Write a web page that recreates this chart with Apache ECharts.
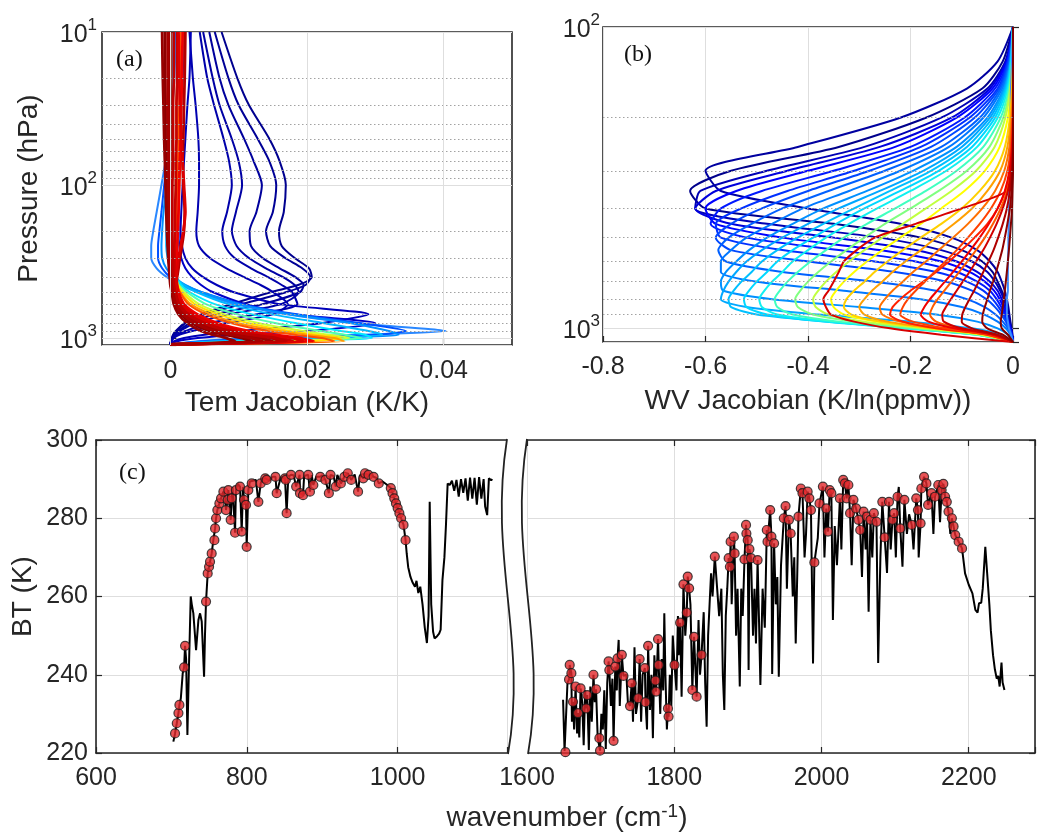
<!DOCTYPE html>
<html><head><meta charset="utf-8">
<script src="https://cdn.jsdelivr.net/npm/echarts@6/dist/echarts.min.js"></script>
<style>html,body{margin:0;padding:0;background:#fff}#c{width:1038px;height:836px}</style>
</head><body><div id="c"></div><script>
// ---------- Panel (a): temperature Jacobians (K/K) ----------
const presA = [10,20,30,50,70,100,150,200,250,300,350,400,450,500,600,700,800,900,950,1000,1050,1100];
const a_D1 = [0.0075,0.0098,0.0115,0.0145,0.0160,0.0169,0.0166,0.0159,0.0163,0.0182,0.0203,0.0207,0.0187,0.0148,0.0090,0.0045,0.0020,0.0008,0.0004,0.0002,0.0001,0];
const a_D2 = [0.0065,0.0085,0.0100,0.0128,0.0145,0.0155,0.0150,0.0140,0.0146,0.0168,0.0193,0.0205,0.0198,0.0170,0.0105,0.0050,0.0022,0.0010,0.0005,0.0003,0.0001,0];
const a_D3 = [0.0057,0.0072,0.0085,0.0108,0.0122,0.0134,0.0126,0.0116,0.0118,0.0135,0.0160,0.0183,0.0195,0.0190,0.0135,0.0065,0.0028,0.0012,0.0006,0.0003,0.0001,0];
const a_D4 = [0.0048,0.0062,0.0072,0.0090,0.0100,0.0105,0.0096,0.0090,0.0097,0.0115,0.0140,0.0165,0.0182,0.0188,0.0162,0.0085,0.0035,0.0014,0.0007,0.0003,0.0001,0];
const a_D5 = [0.0043,0.0054,0.0064,0.0078,0.0086,0.0090,0.0083,0.0076,0.0080,0.0094,0.0118,0.0143,0.0163,0.0178,0.0186,0.0125,0.0055,0.0022,0.0010,0.0004,0.0001,0];
const a_D6 = [0.0028,0.0033,0.0037,0.0041,0.0042,0.0042,0.0040,0.0038,0.0042,0.0058,0.0082,0.0108,0.0132,0.0150,0.0172,0.0150,0.0080,0.0032,0.0014,0.0005,0.0002,0];
const a_D7 = [0.0030,0.0028,0.0025,0.0022,0.0020,0.0018,0.0016,0.0015,0.0017,0.0022,0.0032,0.0048,0.0068,0.0092,0.0160,0.0290,0.0220,0.0100,0.0050,0.0020,0.0005,0];
const a_D8 = [0.0020,0.0018,0.0016,0.0014,0.0013,0.0012,0.0012,0.0012,0.0013,0.0016,0.0022,0.0032,0.0045,0.0062,0.0110,0.0180,0.0300,0.0200,0.0100,0.0040,0.0010,0];
const a_L1 = [0.0008,0.0006,0.0003,-0.0002,-0.0007,-0.0013,-0.0020,-0.0025,-0.0028,-0.0028,-0.0020,-0.0005,0.0015,0.0040,0.0095,0.0170,0.0270,0.0403,0.0280,0.0120,0.0040,0];
const a_L2 = [0.0006,0.0004,0.0002,-0.0002,-0.0005,-0.0009,-0.0013,-0.0016,-0.0018,-0.0018,-0.0012,0.0000,0.0020,0.0045,0.0105,0.0185,0.0280,0.0345,0.0300,0.0150,0.0050,0];
const a_L3 = [0.0005,0.0004,0.0002,0.0000,-0.0003,-0.0006,-0.0010,-0.0012,-0.0013,-0.0012,-0.0006,0.0005,0.0022,0.0045,0.0100,0.0175,0.0265,0.0320,0.0334,0.0200,0.0060,0];
const a_L4 = [0.0005,0.0004,0.0003,0.0001,-0.0001,-0.0003,-0.0005,-0.0006,-0.0006,-0.0004,0.0000,0.0008,0.0020,0.0038,0.0085,0.0150,0.0225,0.0290,0.0310,0.0220,0.0070,0];
const a_C5 = [0.0010,0.0010,0.0009,0.0009,0.0008,0.0008,0.0007,0.0007,0.0006,0.0006,0.0006,0.0008,0.0016,0.0028,0.0065,0.0120,0.0185,0.0250,0.0285,0.0295,0.0100,0];
const a_G6 = [0.0000,0.0000,0.0000,0.0000,0.0000,0.0000,0.0001,0.0001,0.0001,0.0001,0.0002,0.0004,0.0012,0.0024,0.0052,0.0098,0.0155,0.0220,0.0255,0.0280,0.0120,0];
const a_Y7 = [0.0018,0.0017,0.0016,0.0015,0.0014,0.0013,0.0012,0.0011,0.0010,0.0009,0.0009,0.0009,0.0012,0.0020,0.0042,0.0080,0.0130,0.0195,0.0232,0.0262,0.0160,0];
const a_Y8 = [0.0010,0.0010,0.0009,0.0009,0.0008,0.0008,0.0007,0.0007,0.0006,0.0006,0.0006,0.0006,0.0010,0.0017,0.0036,0.0070,0.0115,0.0175,0.0215,0.0250,0.0200,0];
const a_O9 = [0.0000,0.0000,0.0000,0.0000,0.0000,0.0000,0.0001,0.0001,0.0001,0.0001,0.0002,0.0003,0.0007,0.0014,0.0030,0.0060,0.0100,0.0160,0.0200,0.0240,0.0255,0];
const a_O10 = [0.0015,0.0014,0.0013,0.0012,0.0011,0.0010,0.0009,0.0008,0.0007,0.0007,0.0007,0.0008,0.0010,0.0014,0.0026,0.0052,0.0090,0.0142,0.0182,0.0222,0.0240,0];
const a_R11 = [0.0018,0.0017,0.0016,0.0015,0.0014,0.0013,0.0012,0.0011,0.0010,0.0009,0.0009,0.0009,0.0010,0.0012,0.0020,0.0040,0.0070,0.0115,0.0150,0.0190,0.0210,0];
const a_R12 = [0.0010,0.0010,0.0009,0.0009,0.0008,0.0008,0.0007,0.0007,0.0006,0.0006,0.0006,0.0006,0.0007,0.0009,0.0015,0.0030,0.0055,0.0095,0.0128,0.0162,0.0180,0];
const a_R13 = [0.0000,0.0000,0.0000,0.0000,0.0000,0.0000,0.0001,0.0001,0.0001,0.0001,0.0002,0.0002,0.0003,0.0005,0.0010,0.0022,0.0042,0.0075,0.0102,0.0132,0.0150,0];
const a_R14 = [-0.0008,-0.0008,-0.0007,-0.0007,-0.0006,-0.0006,-0.0005,-0.0004,-0.0003,-0.0002,-0.0001,0.0000,0.0001,0.0003,0.0007,0.0016,0.0032,0.0058,0.0080,0.0105,0.0120,0];
const a_R15 = [0.0022,0.0021,0.0020,0.0019,0.0018,0.0019,0.0021,0.0020,0.0017,0.0014,0.0012,0.0010,0.0009,0.0009,0.0012,0.0024,0.0048,0.0085,0.0115,0.0148,0.0165,0];
const a_R16 = [-0.0012,-0.0011,-0.0010,-0.0009,-0.0008,-0.0007,-0.0006,-0.0005,-0.0004,-0.0003,-0.0002,-0.0001,0.0000,0.0002,0.0005,0.0012,0.0025,0.0045,0.0062,0.0082,0.0095,0];
const a_R17 = [0.0012,0.0013,0.0014,0.0016,0.0018,0.0020,0.0022,0.0019,0.0015,0.0012,0.0010,0.0009,0.0009,0.0011,0.0018,0.0034,0.0062,0.0105,0.0140,0.0178,0.0195,0];
const a_R18 = [0.0005,0.0005,0.0004,0.0004,0.0004,0.0003,0.0003,0.0003,0.0003,0.0003,0.0003,0.0004,0.0005,0.0007,0.0012,0.0026,0.0050,0.0088,0.0120,0.0155,0.0170,0];
const a_R19 = [-0.0004,-0.0004,-0.0004,-0.0003,-0.0003,-0.0003,-0.0002,-0.0002,-0.0001,-0.0001,0.0000,0.0001,0.0002,0.0004,0.0008,0.0018,0.0036,0.0065,0.0090,0.0118,0.0135,0];
const aCurves = [a_D1,a_D2,a_D3,a_D4,a_D5,a_D6,a_D7,a_D8,a_L1,a_L2,a_L3,a_L4,a_C5,a_G6,a_Y7,a_Y8,a_O9,a_O10,a_R11,a_R12,a_R13,a_R14,a_R15,a_R16,a_R17,a_R18,a_R19];
const aColors = ['#00008f','#000096','#00009c','#0000a4','#0000aa','#0000b0','#0000b8','#0000c8','#2a88ff','#0050ff','#0090ff','#00b8ff','#00e8ff','#50ffb0','#c8ff38','#ffe000','#ff9a00','#ff5000','#f00000','#c80000','#a00000','#8c0000','#b40000','#960000','#dc0000','#be0000','#a80000'];
const aMinor = [20,30,40,50,60,70,80,90,200,300,400,500,600,700,800,900];
const aXTicks = [0,0.02,0.04];

// ---------- Panel (b): water vapour Jacobians (K/ln(ppmv)) ----------
const presB = [100,130,160,200,250,300,350,400,450,500,550,600,650,700,750,800,850,900,950,1000,1050,1110];
const b_01 = [0,-0.02,-0.06,-0.17,-0.34,-0.55,-0.63,-0.60,-0.35,-0.18,-0.10,-0.06,-0.04,-0.03,-0.022,-0.016,-0.012,-0.009,-0.006,-0.004,-0.002,0];
const b_02 = [0,-0.015,-0.05,-0.14,-0.29,-0.48,-0.61,-0.62,-0.48,-0.26,-0.14,-0.08,-0.05,-0.035,-0.025,-0.018,-0.013,-0.01,-0.007,-0.004,-0.002,0];
const b_03 = [0,-0.03,-0.09,-0.22,-0.42,-0.60,-0.57,-0.40,-0.22,-0.12,-0.07,-0.045,-0.03,-0.022,-0.016,-0.012,-0.009,-0.007,-0.005,-0.003,-0.001,0];
const b_04 = [0,-0.013,-0.045,-0.12,-0.26,-0.44,-0.58,-0.62,-0.55,-0.35,-0.19,-0.11,-0.07,-0.045,-0.03,-0.022,-0.016,-0.012,-0.008,-0.005,-0.002,0];
const b_05 = [0,-0.012,-0.04,-0.11,-0.23,-0.40,-0.54,-0.60,-0.58,-0.45,-0.26,-0.14,-0.085,-0.055,-0.037,-0.026,-0.019,-0.014,-0.009,-0.005,-0.002,0];
const b_06 = [0,-0.01,-0.035,-0.095,-0.20,-0.35,-0.49,-0.57,-0.59,-0.52,-0.34,-0.19,-0.11,-0.07,-0.045,-0.032,-0.023,-0.016,-0.01,-0.006,-0.003,0];
const b_07 = [0,-0.01,-0.03,-0.085,-0.18,-0.31,-0.44,-0.53,-0.58,-0.57,-0.45,-0.27,-0.15,-0.09,-0.058,-0.04,-0.028,-0.019,-0.012,-0.007,-0.003,0];
const b_08 = [0,-0.008,-0.027,-0.075,-0.16,-0.28,-0.40,-0.49,-0.55,-0.58,-0.55,-0.40,-0.23,-0.13,-0.08,-0.052,-0.035,-0.023,-0.014,-0.008,-0.003,0];
const b_09 = [0,-0.007,-0.024,-0.065,-0.14,-0.25,-0.36,-0.45,-0.51,-0.555,-0.575,-0.56,-0.45,-0.27,-0.15,-0.09,-0.055,-0.034,-0.02,-0.01,-0.004,0];
const b_10 = [0,-0.006,-0.021,-0.058,-0.125,-0.22,-0.32,-0.41,-0.47,-0.52,-0.55,-0.57,-0.57,-0.50,-0.33,-0.18,-0.10,-0.056,-0.03,-0.014,-0.005,0];
const b_11 = [0,-0.005,-0.018,-0.05,-0.11,-0.195,-0.285,-0.37,-0.43,-0.48,-0.515,-0.54,-0.56,-0.57,-0.565,-0.47,-0.30,-0.15,-0.07,-0.03,-0.01,0];
const b_12 = [0,-0.005,-0.016,-0.045,-0.10,-0.175,-0.26,-0.34,-0.40,-0.45,-0.49,-0.52,-0.54,-0.555,-0.565,-0.57,-0.52,-0.38,-0.20,-0.08,-0.025,0];
const b_13 = [0,-0.004,-0.014,-0.04,-0.09,-0.16,-0.24,-0.31,-0.37,-0.42,-0.46,-0.49,-0.51,-0.53,-0.545,-0.555,-0.55,-0.50,-0.36,-0.18,-0.06,0];
const b_14 = [0,-0.004,-0.012,-0.035,-0.08,-0.145,-0.22,-0.29,-0.345,-0.39,-0.43,-0.46,-0.48,-0.50,-0.515,-0.525,-0.52,-0.48,-0.37,-0.21,-0.07,0];
const b_15 = [0,-0.003,-0.01,-0.03,-0.07,-0.13,-0.20,-0.265,-0.32,-0.365,-0.40,-0.43,-0.45,-0.47,-0.485,-0.495,-0.49,-0.46,-0.36,-0.21,-0.07,0];
const b_16 = [0,-0.002,-0.008,-0.024,-0.058,-0.11,-0.17,-0.23,-0.285,-0.33,-0.365,-0.395,-0.42,-0.44,-0.455,-0.465,-0.46,-0.43,-0.34,-0.20,-0.07,0];
const b_17 = [0,-0.002,-0.006,-0.019,-0.046,-0.09,-0.145,-0.20,-0.25,-0.29,-0.325,-0.355,-0.38,-0.40,-0.415,-0.425,-0.42,-0.39,-0.31,-0.185,-0.065,0];
const b_18 = [0,-0.001,-0.005,-0.015,-0.036,-0.072,-0.12,-0.17,-0.215,-0.255,-0.29,-0.32,-0.345,-0.365,-0.38,-0.39,-0.385,-0.36,-0.29,-0.17,-0.06,0];
const b_19 = [0,0,-0.003,-0.01,-0.026,-0.055,-0.095,-0.14,-0.18,-0.22,-0.255,-0.285,-0.31,-0.33,-0.345,-0.355,-0.35,-0.33,-0.265,-0.16,-0.055,0];
const b_20 = [0,0,-0.002,-0.006,-0.016,-0.035,-0.065,-0.10,-0.14,-0.18,-0.215,-0.245,-0.27,-0.29,-0.31,-0.325,-0.33,-0.315,-0.26,-0.16,-0.055,0];
const b_21 = [0,0,-0.001,-0.004,-0.011,-0.025,-0.05,-0.08,-0.115,-0.15,-0.18,-0.21,-0.235,-0.255,-0.275,-0.29,-0.30,-0.29,-0.245,-0.15,-0.05,0];
const b_22 = [0,0,0,0,0,-0.003,-0.012,-0.10,-0.19,-0.27,-0.305,-0.33,-0.34,-0.35,-0.36,-0.37,-0.365,-0.355,-0.31,-0.24,-0.14,0];
const b_23 = [0,0,0,-0.002,-0.007,-0.017,-0.035,-0.06,-0.088,-0.117,-0.145,-0.17,-0.195,-0.215,-0.235,-0.25,-0.26,-0.255,-0.22,-0.14,-0.05,0];
const b_24 = [0,0,0,0,-0.002,-0.006,-0.015,-0.03,-0.05,-0.075,-0.10,-0.125,-0.15,-0.175,-0.20,-0.22,-0.235,-0.24,-0.215,-0.15,-0.05,0];
const b_25 = [0,0,0,-0.001,-0.004,-0.011,-0.024,-0.043,-0.065,-0.088,-0.11,-0.132,-0.153,-0.172,-0.19,-0.205,-0.215,-0.22,-0.195,-0.13,-0.045,0];
const b_26 = [0,0,0,0,-0.001,-0.005,-0.012,-0.024,-0.039,-0.055,-0.072,-0.089,-0.105,-0.12,-0.134,-0.147,-0.157,-0.162,-0.15,-0.105,-0.038,0];
const b_27 = [0,0,0,0,-0.002,-0.007,-0.016,-0.03,-0.047,-0.065,-0.083,-0.10,-0.117,-0.133,-0.148,-0.162,-0.173,-0.18,-0.165,-0.115,-0.04,0];
const b_28 = [0,0,0,0,-0.001,-0.004,-0.01,-0.02,-0.032,-0.045,-0.058,-0.072,-0.085,-0.098,-0.11,-0.121,-0.131,-0.138,-0.135,-0.10,-0.035,0];
const b_29 = [0,0,0,0,0,-0.002,-0.006,-0.012,-0.02,-0.029,-0.038,-0.048,-0.058,-0.067,-0.076,-0.085,-0.093,-0.099,-0.10,-0.08,-0.03,0];
const b_30 = [0,0,0,0,0,-0.001,-0.003,-0.006,-0.011,-0.016,-0.021,-0.027,-0.033,-0.039,-0.045,-0.05,-0.055,-0.059,-0.06,-0.05,-0.02,0];
const b_31 = [0,0,0,0,0,0,-0.001,-0.002,-0.004,-0.006,-0.008,-0.01,-0.012,-0.014,-0.016,-0.018,-0.02,-0.022,-0.024,-0.022,-0.01,0];
const b_32 = [0,-0.002,-0.004,-0.005,-0.006,-0.007,-0.008,-0.008,-0.008,-0.009,-0.009,-0.01,-0.01,-0.01,-0.01,-0.012,-0.012,-0.012,-0.01,-0.008,-0.004,0];
const bCurves = [b_01,b_02,b_03,b_04,b_05,b_06,b_07,b_08,b_09,b_10,b_11,b_12,b_13,b_14,b_15,b_16,b_17,b_18,b_19,b_32,b_20,b_21,b_23,b_24,b_25,b_22,b_26,b_27,b_28,b_29,b_30,b_31];
const bColors = ['#00008c','#0000b4','#0000a0','#0000dc','#0000ff','#0018ff','#0030ff','#0048ff','#0060ff','#0078ff','#0090ff','#00a8ff','#00c0ff','#00d8ff','#10f0f0','#40ffc0','#80ff80','#c0ff40','#ffff00','#3c8cff','#ffd000','#ffa000','#ff7000','#ff2000','#ff4000','#d80000','#ff5a00','#f00000','#d00000','#b00000','#900000','#800000'];
const bMinor = [200,300,400,500,600,700,800,900];

// ---------- Panel (c): brightness temperature spectrum ----------
const specLeftLine = [[702.6,222.9],[712.5,234],[715,240.4],[719.5,244],[721.2,224.6],[723,240],[725.6,260],[727,258],[729.1,255.7],[732.7,246.3],[735.8,254],[738,255.7],[740.2,253.6],[743.3,239.5],[744.5,250],[755.6,274.4],[771.1,285.5],[777.7,287.2],[781,288],[788,288.8],[795,288],[804,289.4],[812,289.8],[821,290.2],[830,289.6],[834,290.6],[845,290.5],[855,290.6],[862,291],[876,290.8],[886,291],[892,290.6],[900,291],[915,290.8],[920,291.1],[943,291.2],[950,291.1],[965,291.2],[972,290.3],[980,289.4],[985,288.7],[1012,271],[1014,267.5],[1017,265],[1020,263.5],[1023,262.5],[1025,264],[1027.4,260.9],[1030,262.5],[1033,258],[1036,252],[1038.8,248.1],[1041,255],[1042.5,284.2],[1044.5,258],[1047,251],[1048.9,249.3],[1052,249.8],[1055,250.5],[1057,251.5],[1059.4,264.2],[1062,270],[1064,278],[1066.3,288.9],[1069,288.5],[1072,289.6],[1075,287],[1078,289.8],[1081,285.5],[1084,290],[1087,286.5],[1090,290.2],[1093,284.5],[1096,290.4],[1099,285],[1102,290.3],[1105,283.5],[1108,290.5],[1111,285],[1114,290],[1116,283],[1118.7,280.8],[1121,290.2],[1124,289.7],[1125.5,290]];
const specLeftMarks = [[704.8,225.0],[707.1,227.6],[709.3,230.2],[710.6,232.3],[716.8,241.9],[718.1,247.4],[745.9,258.7],[748.1,265.9],[749.9,267.6],[751.2,268.9],[753.4,271.0],[757.0,274.4],[757.9,277.4],[759.2,280.0],[760.9,282.1],[763.6,283.8],[765.8,285.1],[768.9,286.8],[772.4,282.1],[774.6,284.7],[775.5,287.2],[778.6,279.6],[779.9,285.1],[784.4,276.3],[785.5,287.2],[791.0,288.1],[793.2,276.6],[796.3,284.7],[798.9,283.4],[799.8,272.7],[802.0,287.2],[806.5,288.9],[815.3,284.2],[818.4,288.9],[824.4,290.2],[826.3,289.8],[838.0,290.6],[839.6,286.4],[850.6,290.2],[851.7,289.8],[852.8,281.3],[858.6,291.1],[865.4,288.1],[870.0,291.1],[870.5,286.4],[874.5,285.9],[881.4,291.1],[883.7,286.8],[888.2,288.5],[897.3,290.6],[904.2,289.8],[908.8,286.4],[911.0,291.1],[917.9,288.1],[924.7,288.9],[929.3,290.6],[933.9,291.5],[938.4,289.8],[947.5,286.8],[954.4,290.2],[956.7,291.5],[961.3,291.1],[968.1,290.6],[975.0,288.9],[990.9,287.7],[993.2,286.4],[995.5,285.1],[997.8,283.8],[1000.0,282.6],[1002.3,281.3],[1004.6,280.0],[1007.8,278.3],[1010.5,274.4]];
const specRightLine = [[1649,233.6],[1651,220.5],[1655,238],[1661,228],[1664,226],[1668,225],[1671,224],[1675,233],[1677,222],[1679,236],[1684,220.8],[1686,237],[1688,228],[1692,233],[1696,224],[1701,230],[1703,226],[1705,236],[1707,221],[1709,238],[1714,232],[1716,239],[1722,236],[1724.5,248.9],[1726,232],[1735,240],[1737,233],[1744,228],[1746,247],[1748,230],[1755,228],[1757,240],[1763,226],[1767,231],[1769,240],[1771,223.8],[1773,245],[1781,230],[1783,244],[1785,236],[1786.5,255.7],[1788,240],[1790,226],[1794,240],[1796,232],[1798,250],[1803,236],[1805,255],[1806,245],[1810,234.4],[1815,250],[1822,258],[1833,254],[1835,240],[1840,256],[1842,238],[1844,226.7],[1846,250],[1848,258],[1850,265.9],[1852,260],[1861,255],[1864,262],[1866,240],[1868,231],[1870,255],[1872,262],[1878,258],[1884,250],[1886,262],[1889,237],[1891,262],[1893,255],[1901,241.2],[1907,250],[1909,262],[1911,248],[1915,255],[1917,237.4],[1920,262],[1923,252],[1933,240.2],[1938,258],[1940,265],[1942,239.5],[1945,268],[1953,262],[1961,260],[1963,270],[1965,248],[1967,265],[1977,270],[1979,276],[1988.5,242.9],[1995,275],[2004,270],[2015.5,254],[2018,278],[2021,268],[2027,272],[2041,268],[2055,265],[2060,272],[2064,256.1],[2069,270],[2077,243],[2080,270],[2089,266],[2094,272],[2101,270],[2105,288],[2110,267.6],[2116,276],[2119,281],[2125,272],[2132,270],[2152,276],[2161,279],[2175,276],[2195,265.9],[2200,263],[2205,260.8],[2209,256.6],[2212,255.9],[2214,258.3],[2217,258.4],[2219,262],[2222.5,272.7],[2225,266],[2228,258],[2230,251.4],[2233,245],[2235.5,241.4],[2238,239],[2240,239.7],[2242,237],[2244.5,243.1],[2246,238],[2248.5,236.1]];
const specRightMarks = [[1652.2,220.2],[1657.1,238.8],[1658,242.5],[1660.3,240.4],[1662.5,233.1],[1666,237],[1669.2,230.2],[1672.8,236.5],[1680.4,231.4],[1681.8,234.8],[1690.3,240],[1693.8,236.3],[1698.3,223.8],[1699.2,220.6],[1710.8,243.4],[1711.8,241.2],[1717.6,223.1],[1719.9,242.1],[1723,244.2],[1728.8,245.1],[1731,239.7],[1740,232],[1742.2,237.8],[1751.1,234],[1753,244],[1760.1,241.7],[1761,233],[1764.5,247.4],[1774.5,238.5],[1775.3,235.7],[1778,249.1],[1778.9,242.5],[1791.5,231.4],[1792.3,229.3],[1800.4,242.5],[1808,253.3],[1812.5,263.1],[1817,255.9],[1818.3,265.1],[1820.2,262.1],[1824.6,236.1],[1826.9,249.7],[1830.4,234.4],[1837.1,245.1],[1855.1,270.2],[1873.9,269.8],[1875.6,267.6],[1876.6,274],[1881,275.3],[1882,271],[1895.4,269.5],[1897.5,278.3],[1898,276.1],[1899.8,274.4],[1902.1,272.1],[1904.3,269.8],[1913.2,269.3],[1925.7,277],[1926.7,274],[1930.3,282.1],[1932,275.3],[1935.6,273.6],[1948.8,280],[1951.2,283.1],[1955.8,279.6],[1958.1,276.1],[1968.7,280.4],[1971.9,287.6],[1974.2,286.4],[1981.2,286.8],[1983.5,285.1],[1985.7,282.1],[1990.3,268.7],[1997.3,283.8],[2001.9,288.1],[2006.5,282.5],[2008.8,276.6],[2011.1,287.2],[2013.4,286.4],[2025,285.1],[2029.5,289.8],[2031.8,288.9],[2034.1,285.1],[2036.5,288.5],[2038.8,281.3],[2043.4,284.7],[2047,282.5],[2050.2,279.6],[2052.6,277],[2057.2,281.7],[2061.8,280.4],[2066.5,279.6],[2071.1,281.3],[2074.7,279.1],[2082.6,284.2],[2085.8,275.1],[2091.7,284.2],[2096.4,279.6],[2098.7,281.3],[2103.3,285.5],[2107,277.4],[2112.6,284.7],[2122.6,278.3],[2128.7,285.1],[2131,282.1],[2134.6,278.7],[2135.6,287.6],[2139.3,290.6],[2142.5,288.9],[2144.8,283.4],[2149.4,286.4],[2154.1,285.5],[2158.6,288.5],[2163.2,287.2],[2165.5,288.8],[2167.9,285.5],[2170.2,284.2],[2172.5,281.7],[2177.1,280],[2179.4,277.9],[2181.7,275.7],[2186.3,274],[2190.9,272.3]];

// ---------- build ----------
const FONT = '"Liberation Sans", Arial, Helvetica, sans-serif';
const SERIF = '"Liberation Serif", "Times New Roman", serif';
const TXT = '#262626';
const GRIDC = '#dedede';
const MINORC = '#a2a2a2';
const chart = echarts.init(document.getElementById('c'), null, {renderer: 'canvas'});

function logLabel(v) {
  const e = Math.log10(v), r = Math.round(e);
  if (Math.abs(e - r) > 1e-6) return '';
  return '{a|10}{b|' + r + '}';
}
const logRich = {
  a: {fontSize: 25, fontFamily: FONT, color: TXT, verticalAlign: 'bottom'},
  b: {fontSize: 17, fontFamily: FONT, color: TXT, verticalAlign: 'bottom', padding: [0, 0, 14, 0]}
};
function merged(line, marks) {
  return line.concat(marks).sort((p, q) => p[0] - q[0]);
}
const minorStyle = {type: [1.5, 2.5], color: MINORC, width: 1};
const majorStyle = {type: 'solid', color: GRIDC, width: 1};

const series = [];
aCurves.forEach((vals, i) => {
  const s = {
    type: 'line', xAxisIndex: 0, yAxisIndex: 0, silent: true, animation: false,
    symbol: 'none', smooth: 0.25,
    data: vals.map((v, k) => [v, presA[k]]),
    lineStyle: {color: aColors[i], width: i >= 18 ? 2.8 : 2}
  };
  if (i === 0) {
    s.markLine = {silent: true, symbol: ['none', 'none'], label: {show: false}, animation: false,
      data: aMinor.map(p => ({yAxis: p, lineStyle: minorStyle}))
        .concat(aXTicks.map(x => ({xAxis: x, lineStyle: majorStyle})))};
  }
  series.push(s);
});
bCurves.forEach((vals, i) => {
  const s = {
    type: 'line', xAxisIndex: 1, yAxisIndex: 1, silent: true, animation: false,
    symbol: 'none', smooth: 0.25,
    data: vals.map((v, k) => [v, presB[k]]),
    lineStyle: {color: bColors[i], width: 2}
  };
  if (i === 0) {
    s.markLine = {silent: true, symbol: ['none', 'none'], label: {show: false}, animation: false,
      data: bMinor.map(p => ({yAxis: p, lineStyle: minorStyle}))};
  }
  series.push(s);
});
series.push({type: 'line', xAxisIndex: 2, yAxisIndex: 2, silent: true, animation: false, symbol: 'none',
  data: merged(specLeftLine, specLeftMarks), lineStyle: {color: '#000', width: 2}});
series.push({type: 'line', xAxisIndex: 4, yAxisIndex: 3, silent: true, animation: false, symbol: 'none',
  data: merged(specRightLine, specRightMarks), lineStyle: {color: '#000', width: 2}});
const markStyle = {color: '#e2282c', borderColor: '#1a1a1a', borderWidth: 1.2};
series.push({type: 'scatter', xAxisIndex: 2, yAxisIndex: 2, silent: true, animation: false, symbolSize: 9,
  data: specLeftMarks, itemStyle: markStyle, z: 5});
series.push({type: 'scatter', xAxisIndex: 4, yAxisIndex: 3, silent: true, animation: false, symbolSize: 9,
  data: specRightMarks, itemStyle: markStyle, z: 5});

const axLine = {show: true, lineStyle: {color: TXT, width: 1.6}};
const tickIn = {show: true, inside: true, length: 6, lineStyle: {color: TXT, width: 1.2}};
const lab = {color: TXT, fontSize: 25, fontFamily: FONT};
const nameStyle = {color: TXT, fontSize: 28, fontFamily: FONT};
const splitOn = {show: true, lineStyle: {color: GRIDC, width: 1}};

function modLabel(step) {
  return v => (Math.abs(v / step - Math.round(v / step)) < 1e-6 ? String(Math.round(v)) : '');
}

// axis-break decoration (two S-shaped curves with a white band between)
const brk = {x0: 507, top: 439, bot: 754, c1x: 488, c1y: 560, c2x: 528, c2y: 640, x1: 508, gap: 20};
function bez(t, a, b, c, d) { const u = 1 - t; return u*u*u*a + 3*u*u*t*b + 3*u*t*t*c + t*t*t*d; }
const bandPts = [];
for (let k = 0; k <= 40; k++) { const t = k / 40; bandPts.push([bez(t, brk.x0, brk.c1x, brk.c2x, brk.x1), bez(t, brk.top, brk.c1y, brk.c2y, brk.bot)]); }
for (let k = 40; k >= 0; k--) { const t = k / 40; bandPts.push([bez(t, brk.x0, brk.c1x, brk.c2x, brk.x1) + brk.gap, bez(t, brk.top, brk.c1y, brk.c2y, brk.bot)]); }
function brkCurve(dx) {
  return {type: 'bezierCurve', z: 101, shape: {x1: brk.x0 + dx, y1: brk.top, cpx1: brk.c1x + dx, cpy1: brk.c1y, cpx2: brk.c2x + dx, cpy2: brk.c2y, x2: brk.x1 + dx, y2: brk.bot},
    style: {fill: null, stroke: '#222', lineWidth: 1.8}};
}

const option = {
  backgroundColor: '#fff',
  animation: false,
  grid: [
    {left: 102, top: 32, width: 410, height: 313, show: true, borderColor: TXT, borderWidth: 1.6, backgroundColor: 'transparent'},
    {left: 603, top: 27, width: 410, height: 315, show: true, borderColor: TXT, borderWidth: 1.6, backgroundColor: 'transparent'},
    {left: 96, top: 440, width: 411, height: 313},
    {left: 527, top: 440, width: 514, height: 313}
  ],
  xAxis: [
    {type: 'value', gridIndex: 0, min: -0.01, max: 0.05, interval: 0.01,
      axisLine: {show: false}, splitLine: {show: false},
      axisTick: Object.assign({}, tickIn, {customValues: aXTicks}),
      axisLabel: Object.assign({}, lab, {margin: 14, customValues: aXTicks,
        formatter: v => { const r = Math.round(v * 100); return (Math.abs(v * 100 - r) < 1e-6 && r % 2 === 0 && r >= 0 && r <= 4) ? (r === 0 ? '0' : (r / 100).toFixed(2)) : ''; }}),
      name: 'Tem Jacobian (K/K)', nameLocation: 'middle', nameGap: 44, nameTextStyle: nameStyle},
    {type: 'value', gridIndex: 1, min: -0.8, max: 0, interval: 0.2,
      axisLine: {show: false}, splitLine: splitOn, axisTick: tickIn,
      axisLabel: Object.assign({}, lab, {margin: 13, formatter: v => (Math.abs(v) < 1e-9 ? '0' : v.toFixed(1))}),
      name: 'WV Jacobian (K/ln(ppmv))', nameLocation: 'middle', nameGap: 45, nameTextStyle: nameStyle},
    {type: 'value', gridIndex: 2, min: 600, max: 1145, interval: 200, position: 'bottom',
      axisLine: axLine, splitLine: splitOn, axisTick: tickIn,
      axisLabel: Object.assign({}, lab, {margin: 13, formatter: modLabel(200)})},
    {type: 'value', gridIndex: 2, min: 600, max: 1145, interval: 200, position: 'top',
      axisLine: axLine, splitLine: {show: false}, axisTick: tickIn, axisLabel: {show: false}},
    {type: 'value', gridIndex: 3, min: 1600, max: 2290, interval: 200, position: 'bottom',
      axisLine: axLine, splitLine: splitOn, axisTick: tickIn,
      axisLabel: Object.assign({}, lab, {margin: 13, formatter: modLabel(200)})},
    {type: 'value', gridIndex: 3, min: 1600, max: 2290, interval: 200, position: 'top',
      axisLine: axLine, splitLine: {show: false}, axisTick: tickIn, axisLabel: {show: false}}
  ],
  yAxis: [
    {type: 'log', logBase: 10, gridIndex: 0, min: 10, max: 1110, inverse: true,
      axisLine: {show: false}, splitLine: splitOn, axisTick: tickIn,
      axisLabel: {margin: 5, formatter: logLabel, rich: logRich},
      name: 'Pressure (hPa)', nameLocation: 'middle', nameGap: 59, nameRotate: 90, nameTextStyle: nameStyle},
    {type: 'log', logBase: 10, gridIndex: 1, min: 100, max: 1110, inverse: true,
      axisLine: {show: false}, splitLine: splitOn, axisTick: tickIn,
      axisLabel: {margin: 3, formatter: logLabel, rich: logRich}},
    {type: 'value', gridIndex: 2, min: 220, max: 300, interval: 20, position: 'left',
      axisLine: axLine, splitLine: splitOn, axisTick: tickIn,
      axisLabel: Object.assign({}, lab, {margin: 8}),
      name: 'BT (K)', nameLocation: 'middle', nameGap: 59, nameRotate: 90, nameTextStyle: nameStyle},
    {type: 'value', gridIndex: 3, min: 220, max: 300, interval: 20, position: 'right',
      axisLine: axLine, splitLine: splitOn, axisTick: tickIn, axisLabel: {show: false}}
  ],
  graphic: [
    {type: 'polygon', z: 100, shape: {points: bandPts}, style: {fill: '#fff', stroke: null}},
    brkCurve(0),
    brkCurve(brk.gap),
    {type: 'text', z: 102, left: 116, top: 48, style: {text: '(a)', font: '24px ' + SERIF, fill: '#111'}},
    {type: 'text', z: 102, left: 624, top: 43, style: {text: '(b)', font: '24px ' + SERIF, fill: '#111'}},
    {type: 'text', z: 102, left: 119, top: 461, style: {text: '(c)', font: '24px ' + SERIF, fill: '#111'}},
    {type: 'text', z: 102, x: 567, y: 818, style: {text: 'wavenumber (cm{s|-1})', fontSize: 28, fontFamily: FONT, fill: TXT,
      align: 'center', verticalAlign: 'middle',
      rich: {s: {fontSize: 19, fontFamily: FONT, fill: TXT, verticalAlign: 'bottom', padding: [0, 0, 13, 0]}}}}
  ],
  series: series
};
chart.setOption(option);
</script></body></html>
